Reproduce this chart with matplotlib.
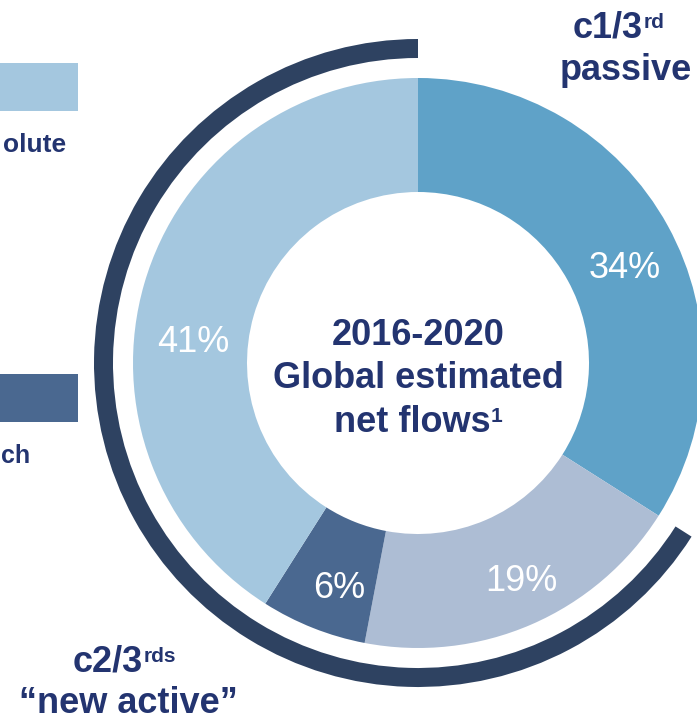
import matplotlib.pyplot as plt
from matplotlib.patches import Wedge

plt.rcParams["font.family"] = ["Liberation Sans", "DejaVu Sans"]

# data
segments = ["passive", "smart beta", "alpha", "absolute"]
shares = [34, 19, 6, 41]
pct_labels = ["34%", "19%", "6%", "41%"]
seg_colors = ["#5fa2c8", "#adbdd4", "#4a6890", "#a4c7df"]
new_active = [19, 6, 41]   # shares under the outer "c2/3rds" arc

W, H = 697, 720
NAVY = "#233470"
RING = "#2e4261"

# layout in pixel space (y measured from top, flipped below)
CX, CY = 418, 363
R_OUT, R_IN = 285, 171
RING_R, RING_W = 324, 19
label_pos = [(625, 278), (521, 591), (339, 598), (193, 352)]


def py(y):
    return H - y


fig = plt.figure(figsize=(W / 100, H / 100), dpi=100)
ax = fig.add_axes([0, 0, 1, 1])

ax.pie(shares, colors=seg_colors, startangle=90, counterclock=False,
       center=(CX, py(CY)), radius=R_OUT,
       wedgeprops=dict(width=R_OUT - R_IN, linewidth=0))
ax.set_xlim(0, W)
ax.set_ylim(0, H)
ax.set_aspect("equal")
ax.axis("off")

for txt, (x, y) in zip(pct_labels, label_pos):
    ax.text(x, py(y), txt, color="white", fontsize=26, ha="center", va="baseline")

# outer arc over the "new active" share, counter-clockwise from the top
span = 360 * sum(new_active) / sum(shares)
ax.add_patch(Wedge((CX, py(CY)), RING_R, 90, 90 + span, width=RING_W,
                   facecolor=RING, edgecolor="none"))


def bold(x, y, s, size=26, ha="center"):
    return ax.text(x, py(y), s, color=NAVY, fontsize=size, fontweight="bold",
                   ha=ha, va="baseline")


def sup(artist, s, size=15):
    ax.annotate(s, xy=(1, 0.93), xycoords=artist, xytext=(0.5, 0),
                textcoords="offset points", color=NAVY, fontsize=size,
                fontweight="bold", ha="left", va="top")


# centre title
bold(CX, 345, "2016-2020")
bold(CX, 388, "Global estimated")
sup(bold(CX - 6, 432, "net flows"), "1")

sup(bold(608, 38, "c1/3"), "rd")
bold(626, 80, "passive")

sup(bold(108, 672, "c2/3"), "rds")
bold(128, 713, "\u201cnew active\u201d")

# cropped legend swatches on the left
ax.add_patch(plt.Rectangle((-40, py(111)), 118, 48, facecolor=seg_colors[3], edgecolor="none"))
bold(66, 152, "olute", size=19, ha="right")
ax.add_patch(plt.Rectangle((-40, py(422)), 118, 48, facecolor=seg_colors[2], edgecolor="none"))
bold(1, 463, "ch", size=18, ha="left")

fig.savefig("out.png", dpi=100)
